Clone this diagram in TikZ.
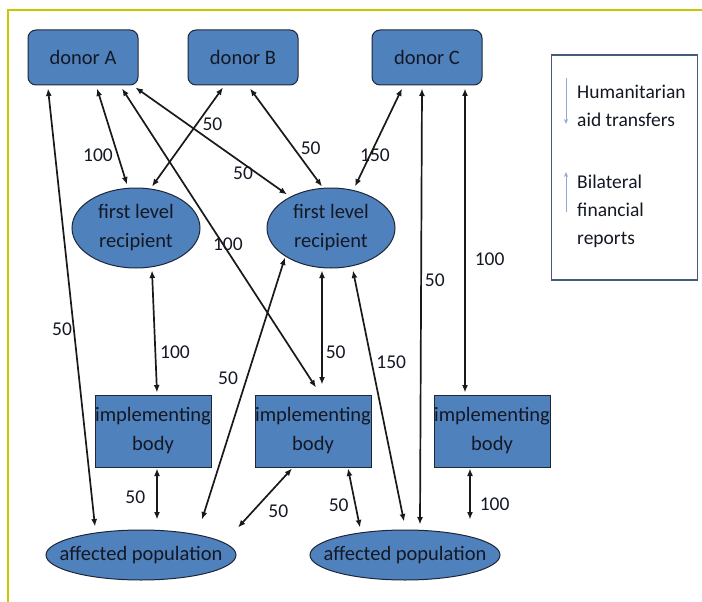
\documentclass[tikz,border=0pt]{standalone}
\usepackage{fontspec}
\setmainfont{Carlito}
\usetikzlibrary{calc, shapes.geometric, arrows.meta}
\usepackage{xcolor}
\definecolor{boxblue}{RGB}{79,129,189}
\definecolor{boxline}{RGB}{30,38,56}
\definecolor{frameyellow}{RGB}{200,200,0}
\definecolor{legendline}{RGB}{70,90,125}
\definecolor{legendarrow}{RGB}{140,170,210}
\definecolor{txtdark}{RGB}{20,24,36}

\begin{document}
\begin{tikzpicture}[
    x=1pt, y=-1pt,
    every node/.style={font=\fontsize{20.5}{29}\selectfont, text=txtdark},
    donorbox/.style={rectangle, draw=boxline, line width=1pt, rounded corners=8pt, fill=boxblue, minimum width=110pt, minimum height=55pt, inner sep=0pt, align=center},
    implbox/.style={rectangle, draw=boxline, line width=1pt, fill=boxblue, minimum width=116pt, minimum height=72pt, inner sep=0pt, align=center},
    recipient/.style={ellipse, draw=boxline, line width=1pt, fill=boxblue, minimum width=128pt, minimum height=80pt, inner sep=-6pt, align=center},
    population/.style={ellipse, draw=boxline, line width=1pt, fill=boxblue, minimum width=190pt, minimum height=50pt, inner xsep=-20pt, inner ysep=0pt, align=center},
    link/.style={{Latex[length=7.5pt,width=6pt]}-{Latex[length=7.5pt,width=6pt]}, line width=1.7pt, black!90},
    legendarr/.style={-{Stealth[length=5pt,width=4pt]}, legendarrow, line width=1pt},
    legendtext/.style={anchor=north west, align=left, inner sep=0pt, font=\fontsize{19.5}{28}\selectfont},
    lbl/.style={font=\fontsize{19.5}{20}\selectfont, inner sep=1pt}
]
    \useasboundingbox (0,0) rectangle (702,602);

    % Frame
    \draw[frameyellow, line width=1.5pt] (702,10) -- (8,10) -- (8,602);

    % Donor row
    \node[donorbox] (dA) at (83,57.5) {donor A};
    \node[donorbox] (dB) at (243,57.5) {donor B};
    \node[donorbox] (dC) at (427,57.5) {donor C};

    % First level recipients
    \node[recipient] (flA) at (136,228) {first level\\recipient};
    \node[recipient] (flB) at (331,228) {first level\\recipient};

    % Implementing bodies
    \node[implbox] (ibA) at (153,431) {implementing\\body};
    \node[implbox] (ibB) at (313,431) {implementing\\body};
    \node[implbox] (ibC) at (492,431) {implementing\\body};

    % Affected populations
    \node[population] (popA) at (141,555) {affected population};
    \node[population] (popB) at (405,555) {affected population};

    % Legend
    \node[draw=legendline, line width=1.3pt, minimum width=146pt, minimum height=225pt, inner sep=0pt] (legend) at (624.5,167.5) {};
    \node[legendtext] (aidtxt) at (577,85) {Humanitarian\\aid transfers};
    \node[legendtext] (reptxt) at (577,175) {Bilateral\\financial\\reports};
    \coordinate (aidtop) at (566,78);
    \coordinate (aidbot) at (566,124);
    \coordinate (repbot) at (566,212);
    \coordinate (reptop) at (566,172);
    \draw[legendarr] (aidtop) -- (aidbot);
    \draw[legendarr] (repbot) -- (reptop);

    % Donor links
    \draw[link] ($(dA.south)+(-35,3)$) -- ($(popA.north)+(-46,-3)$) node[lbl, pos=.55, left] {50};
    \draw[link] ($(dA.south)+(14,3)$) -- ($(flA.north)+(-9,-3)$) node[lbl, pos=.69, left=3pt] {100};
    \draw[link] ($(dA.south)+(39,3)$) -- ($(ibB.north)+(3,-7)$) node[lbl, pos=.52, xshift=5pt] {100};
    \draw[link] ($(dA.south east)+(-3,2)$) -- ($(flB.north)+(-44,7)$) node[lbl, pos=.71, below=2pt] {50};
    \draw[link] ($(dB.south)+(-20,2)$) -- ($(flA.north)+(16,-1)$) node[lbl, pos=.37, right=4pt] {50};
    \draw[link] ($(dB.south)+(7,3)$) -- ($(flB.north)+(-9,-1)$) node[lbl, pos=.61, right=5pt] {50};
    \draw[link] ($(dC.south)+(-25,3)$) -- ($(flB.north)+(24,-1)$) node[lbl, pos=.68, xshift=5pt] {150};
    \draw[link] ($(dC.south)+(-5,3)$) -- ($(popB.north)+(15,-5)$) node[lbl, pos=.44, right=2pt] {50};
    \draw[link] ($(dC.south)+(38,3)$) -- ($(ibC.north)+(-27,-2)$) node[lbl, pos=.56, right=8pt] {100};

    % Recipient links
    \draw[link] ($(flA.south)+(16,2)$) -- ($(ibA.north)+(4,-2)$) node[lbl, pos=.67, right=3pt] {100};
    \draw[link] ($(flB.south)+(-46,-11)$) -- ($(popA.north)+(61,-10)$) node[lbl, pos=.46, left=7pt] {50};
    \draw[link] ($(flB.south)+(-9,2)$) -- ($(ibB.north)+(9,-10)$) node[lbl, pos=.72, right=2pt] {50};
    \draw[link] ($(flB.south)+(22,2)$) -- ($(popB.north)+(-1,-8)$) node[lbl, pos=.365, right=3pt] {150};

    % Implementing body links
    \draw[link] ($(ibA.south)+(4,1)$) -- ($(popA.north)+(16,-10)$) node[lbl, pos=.56, left=10pt] {50};
    \draw[link] ($(ibB.south)+(-21,1)$) -- ($(popA.north)+(97,-2)$) node[lbl, pos=.73, right=14pt] {50};
    \draw[link] ($(ibB.south)+(35,1)$) -- ($(popB.north)+(-45,-2)$) node[lbl, pos=.62, left=5pt] {50};
    \draw[link] ($(ibC.south)+(-22,1)$) -- ($(popB.north)+(65,-10)$) node[lbl, pos=.71, right=8pt] {100};
\end{tikzpicture}
\end{document}
